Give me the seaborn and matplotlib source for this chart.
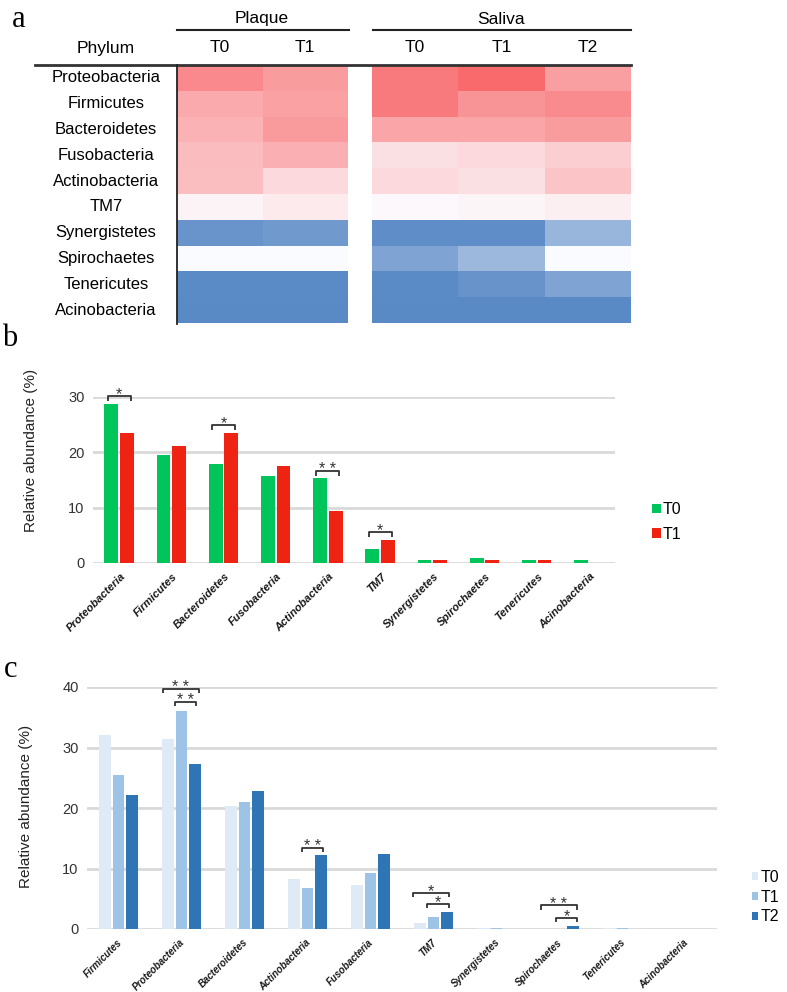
import numpy as np
import pandas as pd
import seaborn as sns
import matplotlib.pyplot as plt
import matplotlib.transforms as mtrans
from matplotlib.colors import LinearSegmentedColormap
from matplotlib.lines import Line2D

# ---- data ----
# panel a: heatmap scores (-1 = low/blue, +1 = high/red)
phyla_a = ["Proteobacteria", "Firmicutes", "Bacteroidetes", "Fusobacteria", "Actinobacteria",
           "TM7", "Synergistetes", "Spirochaetes", "Tenericutes", "Acinobacteria"]
plaque_t0 = [0.78, 0.56, 0.50, 0.43, 0.42, 0.06, -0.91, -0.01, -0.99, -1.00]
plaque_t1 = [0.65, 0.61, 0.66, 0.51, 0.24, 0.12, -0.86, -0.01, -0.99, -1.00]
saliva_t0 = [0.88, 0.88, 0.59, 0.19, 0.24, 0.03, -0.97, -0.77, -0.99, -1.00]
saliva_t1 = [0.99, 0.71, 0.59, 0.24, 0.19, 0.05, -0.97, -0.59, -0.92, -1.00]
saliva_t2 = [0.63, 0.77, 0.65, 0.31, 0.37, 0.09, -0.61, -0.01, -0.77, -1.00]

# panel b: plaque relative abundance (%)
phyla_b = ["Proteobacteria", "Firmicutes", "Bacteroidetes", "Fusobacteria", "Actinobacteria",
           "TM7", "Synergistetes", "Spirochaetes", "Tenericutes", "Acinobacteria"]
plaque_b_t0 = [28.8, 19.6, 17.9, 15.7, 15.4, 2.5, 0.5, 0.85, 0.5, 0.5]
plaque_b_t1 = [23.5, 21.2, 23.5, 17.6, 9.4, 4.1, 0.5, 0.5, 0.5, 0.0]
# (category index, y of bracket, label)
sig_b = [(0, 30.2, "*"), (2, 25.0, "*"), (4, 16.7, "* *"), (5, 5.6, "*")]

# panel c: saliva relative abundance (%)
phyla_c = ["Firmicutes", "Proteobacteria", "Bacteroidetes", "Actinobacteria", "Fusobacteria",
           "TM7", "Synergistetes", "Spirochaetes", "Tenericutes", "Acinobacteria"]
saliva_c_t0 = [32.0, 31.4, 20.4, 8.3, 7.3, 0.95, 0.1, 0.05, 0.1, 0.0]
saliva_c_t1 = [25.5, 36.0, 21.0, 6.7, 9.3, 2.0, 0.1, 0.05, 0.1, 0.0]
saliva_c_t2 = [22.2, 27.3, 22.8, 12.2, 12.4, 2.8, 0.0, 0.55, 0.0, 0.0]
# (category index, x0 offset, x1 offset, y, label)
sig_c = [(1, -0.30, 0.27, 39.7, "* *"), (1, -0.10, 0.23, 37.5, "* *"),
         (3, -0.08, 0.24, 13.4, "* *"),
         (5, -0.32, 0.25, 6.0, "*"), (5, -0.10, 0.25, 4.1, "*"),
         (7, -0.30, 0.28, 3.9, "* *"), (7, -0.06, 0.28, 1.8, "*")]

W, H = 787, 992
plt.rcParams['font.family'] = ['Liberation Sans', 'DejaVu Sans']
fig = plt.figure(figsize=(W / 100, H / 100), dpi=100)


def box(l, t, r, b):
    return [l / W, 1 - b / H, (r - l) / W, (b - t) / H]


def fx(x):
    return x / W


def fy(y):
    return 1 - y / H


# ---- panel a ----
cmap = LinearSegmentedColormap.from_list("xl", ["#5A8AC6", "#FCFCFF", "#F8696B"])
plaque_df = pd.DataFrame({"T0": plaque_t0, "T1": plaque_t1}, index=phyla_a)
saliva_df = pd.DataFrame({"T0": saliva_t0, "T1": saliva_t1, "T2": saliva_t2}, index=phyla_a)

ax_p = fig.add_axes(box(177, 65, 348, 323))
ax_s = fig.add_axes(box(372, 65, 631, 323))
for ax, df in [(ax_p, plaque_df), (ax_s, saliva_df)]:
    sns.heatmap(df, ax=ax, cmap=cmap, vmin=-1, vmax=1, cbar=False,
                xticklabels=False, yticklabels=False)
    ax.set_xlabel("")
    ax.set_ylabel("")
    tr = mtrans.blended_transform_factory(ax.transData, fig.transFigure)
    for j, col in enumerate(df.columns):
        ax.text(j + 0.5, fy(48), col, transform=tr, ha="center", va="center", fontsize=12.5)

tr_rows = mtrans.blended_transform_factory(fig.transFigure, ax_p.transData)
for i, name in enumerate(phyla_a):
    ax_p.text(fx(106), i + 0.5, name, transform=tr_rows, ha="center", va="center", fontsize=12)

fig.text(fx(262), fy(19), "Plaque", ha="center", va="center", fontsize=12.5)
fig.text(fx(501), fy(19), "Saliva", ha="center", va="center", fontsize=12.5)
fig.text(fx(106), fy(48), "Phylum", ha="center", va="center", fontsize=12.5)
fig.add_artist(Line2D([fx(177), fx(349)], [fy(30)] * 2, color="#222222", lw=1.5))
fig.add_artist(Line2D([fx(373), fx(631)], [fy(30)] * 2, color="#222222", lw=1.5))
fig.add_artist(Line2D([fx(35), fx(631)], [fy(65)] * 2, color="#333333", lw=2))
fig.add_artist(Line2D([fx(177), fx(177)], [fy(65), fy(324)], color="#222222", lw=1.3))

for letter, x, y in [("a", 12, 27), ("b", 2, 346), ("c", 4, 677)]:
    fig.text(fx(x), fy(y), letter, ha="left", va="baseline", fontsize=22,
             family="Liberation Serif")


def style_bar_axes(ax, ymax, step, names, tick_fs, shift_px):
    ax.set_xlim(-0.5, len(names) - 0.5)
    ax.set_ylim(0, ymax)
    ax.set_yticks(np.arange(0, ymax + 1, step))
    ax.set_axisbelow(True)
    ax.yaxis.grid(True, color="#D9D9D9", lw=2)
    ax.xaxis.grid(False)
    for s in ax.spines.values():
        s.set_visible(False)
    ax.tick_params(length=0, labelsize=10.5, colors="#333333", pad=6)
    ax.set_xlabel("")
    ax.set_xticks(range(len(names)))
    ax.set_xticklabels(names, rotation=45, ha="right", va="top", rotation_mode="anchor",
                       fontstyle="italic", fontweight="bold", fontsize=tick_fs, color="#1a1a1a")
    off = mtrans.ScaledTranslation(shift_px / 100, 0, fig.dpi_scale_trans)
    for lab in ax.get_xticklabels():
        lab.set_transform(lab.get_transform() + off)


def bracket(ax, x0, x1, y, drop, label, fs=11.5):
    ax.plot([x0, x0, x1, x1], [y - drop, y, y, y - drop], color="#333333", lw=1.3,
            clip_on=False, solid_capstyle="butt", scalex=False, scaley=False)
    ax.annotate(label, ((x0 + x1) / 2, y), xytext=(0, -2.3), textcoords="offset points",
                ha="center", va="baseline", fontsize=fs, color="#333333",
                annotation_clip=False)


# ---- panel b ----
ax_b = fig.add_axes(box(93, 397, 615, 563))
df_b = pd.DataFrame({
    "phylum": phyla_b * 2,
    "time": ["T0"] * len(phyla_b) + ["T1"] * len(phyla_b),
    "value": plaque_b_t0 + plaque_b_t1,
})
sns.barplot(data=df_b, x="phylum", y="value", hue="time", palette=["#00C55A", "#EE2311"],
            width=0.6, gap=0.12, ax=ax_b, errorbar=None, saturation=1)
style_bar_axes(ax_b, 30, 10, phyla_b, 8, 1)
ax_b.set_ylabel("Relative abundance (%)", fontsize=11, color="#222222")
ax_b.yaxis.set_label_coords((38 - 93) / 522, 0.68)
for i, y, lab in sig_b:
    bracket(ax_b, i - 0.22, i + 0.22, y, 0.9, lab)
ax_b.legend(loc="center left", bbox_to_anchor=(fx(644), fy(522)), bbox_transform=fig.transFigure,
            frameon=False, handlelength=0.55, handleheight=0.55, handletextpad=0.1,
            labelspacing=0.6, fontsize=11.5, borderpad=0)

# ---- panel c ----
ax_c = fig.add_axes(box(87, 687, 717, 929))
df_c = pd.DataFrame({
    "phylum": phyla_c * 3,
    "time": ["T0"] * len(phyla_c) + ["T1"] * len(phyla_c) + ["T2"] * len(phyla_c),
    "value": saliva_c_t0 + saliva_c_t1 + saliva_c_t2,
})
sns.barplot(data=df_c, x="phylum", y="value", hue="time",
            palette=["#DEEBF7", "#9DC3E6", "#2E75B6"],
            width=0.63, gap=0.12, ax=ax_c, errorbar=None, saturation=1)
style_bar_axes(ax_c, 40, 10, phyla_c, 7, -2)
ax_c.set_ylabel("Relative abundance (%)", fontsize=11, color="#222222")
ax_c.yaxis.set_label_coords((33 - 87) / 630, 0.505)
for i, a, b, y, lab in sig_c:
    bracket(ax_c, i + a, i + b, y, 0.7, lab)
ax_c.legend(loc="center left", bbox_to_anchor=(fx(744), fy(897)), bbox_transform=fig.transFigure,
            frameon=False, handlelength=0.4, handleheight=0.4, handletextpad=0.15,
            labelspacing=0.3, fontsize=11.5, borderpad=0)

fig.savefig("out.png", dpi=100)
